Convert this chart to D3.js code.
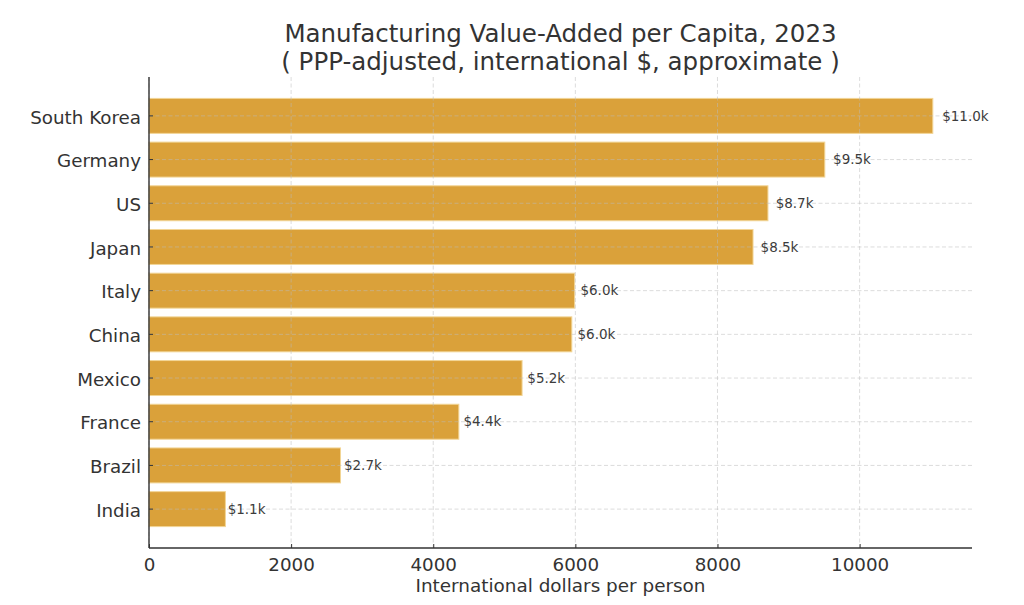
<!DOCTYPE html>
<html>
<head>
<meta charset="utf-8">
<script src="https://cdn.jsdelivr.net/npm/d3@7"></script>
<style>
  body { margin: 0; background: #fff; }
  text { font-family: "DejaVu Sans", sans-serif; fill: #333; }
</style>
</head>
<body>
<script>
var w = 1024, h = 605;

// data
var countries = ["South Korea", "Germany", "US", "Japan", "Italy", "China", "Mexico", "France", "Brazil", "India"];
var values    = [11030, 9510, 8710, 8500, 5990, 5950, 5250, 4360, 2695, 1075];
var labels    = ["$11.0k", "$9.5k", "$8.7k", "$8.5k", "$6.0k", "$6.0k", "$5.2k", "$4.4k", "$2.7k", "$1.1k"];
var xTicks    = [0, 2000, 4000, 6000, 8000, 10000];

var m = { left: 149, right: 52, top: 77, bottom: 57 };
var iw = w - m.left - m.right,
    ih = h - m.top - m.bottom;

var svg = d3.select("body").append("svg")
  .attr("width", w)
  .attr("height", h);

var g = svg.append("g").attr("transform", "translate(" + m.left + "," + m.top + ")");

var x = d3.scaleLinear()
  .domain([0, d3.max(values) * 1.05])
  .range([0, iw]);

var y = d3.scaleBand()
  .domain(countries)
  .range([0, ih])
  .paddingInner(0.2)
  .paddingOuter(0.49);

// bars
g.selectAll("rect.bar")
  .data(countries)
  .enter().append("rect")
    .attr("class", "bar")
    .attr("x", x(0))
    .attr("y", function(d) { return y(d); })
    .attr("width", function(d, i) { return x(values[i]) - x(0); })
    .attr("height", y.bandwidth())
    .attr("fill", "#daa13a")
    .attr("stroke", "#f2d596")
    .attr("stroke-width", 1);

// grid on top of bars
g.selectAll("line.vgrid")
  .data(xTicks)
  .enter().append("line")
    .attr("x1", function(d) { return x(d); })
    .attr("x2", function(d) { return x(d); })
    .attr("y1", 0)
    .attr("y2", ih)
    .attr("stroke", "#bbb")
    .attr("stroke-opacity", 0.65)
    .attr("stroke-width", 0.8)
    .attr("stroke-dasharray", "4,2.5");

g.selectAll("line.hgrid")
  .data(countries)
  .enter().append("line")
    .attr("x1", 0)
    .attr("x2", iw)
    .attr("y1", function(d) { return y(d) + y.bandwidth() / 2; })
    .attr("y2", function(d) { return y(d) + y.bandwidth() / 2; })
    .attr("stroke", "#bbb")
    .attr("stroke-opacity", 0.65)
    .attr("stroke-width", 0.8)
    .attr("stroke-dasharray", "4,2.5");

// value labels
g.selectAll("text.val")
  .data(countries)
  .enter().append("text")
    .attr("x", function(d, i) { return x(values[i] * 1.01) + 1.5; })
    .attr("y", function(d) { return y(d) + y.bandwidth() / 2; })
    .attr("dy", "0.35em")
    .style("font-size", "13.5px")
    .style("fill", "#3c3c3c")
    .text(function(d, i) { return labels[i]; });

// axes
var xAxis = d3.axisBottom(x).tickValues(xTicks).tickFormat(d3.format("d"))
  .tickSizeInner(-4).tickSizeOuter(0).tickPadding(10);
var yAxis = d3.axisLeft(y).tickSizeInner(-4).tickSizeOuter(0).tickPadding(8);

var gx = g.append("g").attr("transform", "translate(0," + ih + ")").call(xAxis);
var gy = g.append("g").call(yAxis);

[gx, gy].forEach(function(a) {
  a.select(".domain").attr("stroke", "#333").attr("stroke-width", 1.4);
  a.selectAll(".tick line").attr("stroke", "#333").attr("stroke-width", 1);
  a.selectAll(".tick text").attr("fill", "#333").style("font-size", "18.3px")
    .style("font-family", "DejaVu Sans, sans-serif");
});
gy.selectAll(".tick text").attr("dy", "0.42em");
gx.select(".domain").attr("d", "M0,0H" + iw);
gy.select(".domain").attr("d", "M0,0V" + ih);

// axis title
svg.append("text")
  .attr("x", m.left + iw / 2)
  .attr("y", 592)
  .attr("text-anchor", "middle")
  .style("font-size", "18.4px")
  .text("International dollars per person");

// title
var title = svg.append("text")
  .attr("x", m.left + iw / 2)
  .attr("text-anchor", "middle")
  .style("font-size", "24.5px");
title.append("tspan").attr("x", m.left + iw / 2).attr("y", 42)
  .text("Manufacturing Value-Added per Capita, 2023");
title.append("tspan").attr("x", m.left + iw / 2).attr("y", 70)
  .text("( PPP-adjusted, international $, approximate )");
</script>
</body>
</html>
